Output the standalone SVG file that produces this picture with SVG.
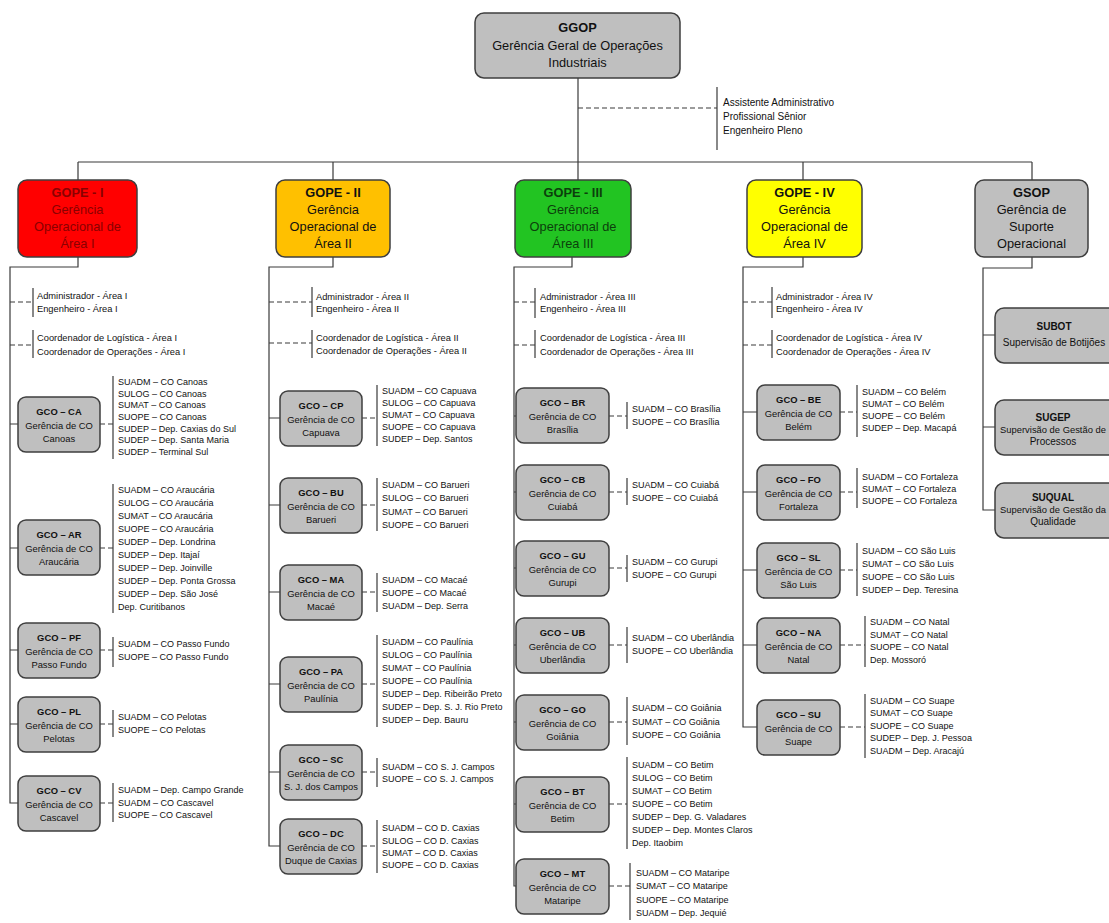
<svg xmlns="http://www.w3.org/2000/svg" width="1109" height="923" viewBox="0 0 1109 923">
<style>
.bg{fill:#ffffff}
.box{stroke:#3f3f3f;stroke-width:1.5}
.gray{fill:#BFBFBF}
.ln{stroke:#3a3a3a;stroke-width:1.2;fill:none}
.dash{stroke-dasharray:5,3}
text{font-family:"Liberation Sans",Arial,sans-serif;fill:#111}
.h{font-size:12.8px;text-anchor:middle}
.b{font-weight:bold}
.g{font-size:9.4px;text-anchor:middle}
.gs{font-size:10px;text-anchor:middle}
.gn{font-size:9.4px;text-anchor:middle}
.l{font-size:9px}
.s{font-size:9.3px}
.a{font-size:10px}
</style>
<rect class="bg" x="0" y="0" width="1109" height="923"/>

<g id="connectors">
  <path class="ln" d="M578 78 V180"/>
  <path class="ln" d="M78 162 H1032"/>
  <path class="ln" d="M78 162 V180 M333 162 V180 M803 162 V180 M1032 162 V180"/>
  <path class="ln dash" d="M578 108 H717"/>
  <path class="ln" d="M717 87 V150"/>
  <!-- column 1 -->
  <path class="ln" d="M78 257 V267 H10 V803 H18"/>
  <path class="ln dash" d="M10 302 H33 M10 345 H33"/>
  <path class="ln" d="M33 288 V317 M33 330 V358"/>
  <path class="ln" d="M10 424 H18 M10 548 H18 M10 650 H18 M10 724 H18"/>
  <path class="ln dash" d="M100 424 H113 M100 548 H113 M100 650 H113 M100 724 H113 M100 803 H113"/>
  <path class="ln" d="M113 376 V459 M113 484 V613 M113 637 V667 M113 710 V737 M113 783 V822"/>
  <!-- column 2 -->
  <path class="ln" d="M333 257 V267 H269 V846 H280"/>
  <path class="ln dash" d="M269 302 H312 M269 343 H312"/>
  <path class="ln" d="M312 287 V317 M312 330 V358"/>
  <path class="ln" d="M269 418 H280 M269 505 H280 M269 592 H280 M269 684 H280 M269 772 H280"/>
  <path class="ln dash" d="M362 418 H377 M362 505 H377 M362 592 H377 M362 684 H377 M362 772 H377 M362 846 H377"/>
  <path class="ln" d="M377 385 V446 M377 478 V531 M377 573 V612 M377 635 V727 M377 758 V787 M377 820 V873"/>
  <!-- column 3 -->
  <path class="ln" d="M572 257 V267 H514 V886 H516"/>
  <path class="ln dash" d="M514 302 H535 M514 345 H535"/>
  <path class="ln" d="M535 288 V318 M535 330 V358"/>
  <path class="ln" d="M514 416 H516 M514 492 H516 M514 568 H516 M514 645 H516 M514 722 H516 M514 804 H516"/>
  <path class="ln dash" d="M609 416 H627 M609 492 H627 M609 568 H627 M609 645 H627 M609 722 H627 M609 804 H627 M609 886 H630"/>
  <path class="ln" d="M627 402 V429 M627 478 V505 M627 555 V582 M627 627 V663 M627 697 V745 M627 757 V849 M630 863 V920"/>
  <!-- column 4 -->
  <path class="ln" d="M803 257 V267 H743 V727 H757"/>
  <path class="ln dash" d="M743 302 H772 M743 345 H772"/>
  <path class="ln" d="M772 287 V318 M772 330 V358"/>
  <path class="ln" d="M743 412 H757 M743 492 H757 M743 570 H757 M743 645 H757"/>
  <path class="ln dash" d="M840 412 H857 M840 492 H857 M840 570 H857 M840 645 H865 M840 727 H865"/>
  <path class="ln" d="M857 385 V437 M857 468 V508 M857 543 V596 M865 616 V667 M865 694 V758"/>
  <!-- column 5 -->
  <path class="ln" d="M1032 257 V268 H983 V510 H995"/>
  <path class="ln" d="M983 335 H995 M983 427 H995"/>
</g>

<g id="ggop">
  <rect class="box gray" x="475" y="13" width="205" height="65" rx="9"/>
  <text class="h b" x="577.5" y="32">GGOP</text>
  <text class="h" x="577.5" y="50">Gerência Geral de Operações</text>
  <text class="h" x="577.5" y="67">Industriais</text>
</g>
<g id="ggop-staff">
  <text class="a" x="723" y="106">Assistente Administrativo</text>
  <text class="a" x="723" y="120">Profissional Sênior</text>
  <text class="a" x="723" y="134">Engenheiro Pleno</text>
</g>

<!-- Column 1 -->
<g id="gope1">
  <rect class="box" x="18" y="180" width="119" height="77" rx="9" fill="#FF0000"/>
  <text class="h b" x="77.5" y="197" style="fill:#8a0000">GOPE - I</text>
  <text class="h" x="77.5" y="214" style="fill:#8a0000">Gerência</text>
  <text class="h" x="77.5" y="231" style="fill:#8a0000">Operacional de</text>
  <text class="h" x="77.5" y="248" style="fill:#8a0000">Área I</text>
</g>
<g id="gope1-staff">
  <text class="s" x="37" y="299">Administrador - Área I</text>
  <text class="s" x="37" y="312">Engenheiro - Área I</text>
  <text class="s" x="37" y="341">Coordenador de Logística - Área I</text>
  <text class="s" x="37" y="355">Coordenador de Operações - Área I</text>
</g>
<g id="gco-ca">
  <rect class="box gray" x="18" y="397" width="82" height="55" rx="8"/>
  <text class="g b" x="59" y="415">GCO – CA</text>
  <text class="g" x="59" y="428.5">Gerência de CO</text>
  <text class="g" x="59" y="442">Canoas</text>
  <text class="l" x="118" y="385">SUADM – CO Canoas</text>
  <text class="l" x="118" y="397">SULOG – CO Canoas</text>
  <text class="l" x="118" y="408">SUMAT – CO Canoas</text>
  <text class="l" x="118" y="420">SUOPE – CO Canoas</text>
  <text class="l" x="118" y="432">SUDEP – Dep. Caxias do Sul</text>
  <text class="l" x="118" y="443">SUDEP – Dep. Santa Maria</text>
  <text class="l" x="118" y="455">SUDEP – Terminal Sul</text>
</g>
<g id="gco-ar">
  <rect class="box gray" x="18" y="520" width="82" height="55" rx="8"/>
  <text class="g b" x="59" y="538">GCO – AR</text>
  <text class="g" x="59" y="551.5">Gerência de CO</text>
  <text class="g" x="59" y="565">Araucária</text>
  <text class="l" x="118" y="493">SUADM – CO Araucária</text>
  <text class="l" x="118" y="506">SULOG – CO Araucária</text>
  <text class="l" x="118" y="519">SUMAT – CO Araucária</text>
  <text class="l" x="118" y="532">SUOPE – CO Araucária</text>
  <text class="l" x="118" y="545">SUDEP – Dep. Londrina</text>
  <text class="l" x="118" y="558">SUDEP – Dep. Itajaí</text>
  <text class="l" x="118" y="571">SUDEP – Dep. Joinville</text>
  <text class="l" x="118" y="584">SUDEP – Dep. Ponta Grossa</text>
  <text class="l" x="118" y="597">SUDEP – Dep. São José</text>
  <text class="l" x="118" y="610">Dep. Curitibanos</text>
</g>
<g id="gco-pf">
  <rect class="box gray" x="18" y="623" width="82" height="55" rx="8"/>
  <text class="g b" x="59" y="641">GCO – PF</text>
  <text class="g" x="59" y="654.5">Gerência de CO</text>
  <text class="g" x="59" y="668">Passo Fundo</text>
  <text class="l" x="118" y="647">SUADM – CO Passo Fundo</text>
  <text class="l" x="118" y="660">SUOPE – CO Passo Fundo</text>
</g>
<g id="gco-pl">
  <rect class="box gray" x="18" y="697" width="82" height="55" rx="8"/>
  <text class="g b" x="59" y="715">GCO – PL</text>
  <text class="g" x="59" y="728.5">Gerência de CO</text>
  <text class="g" x="59" y="742">Pelotas</text>
  <text class="l" x="118" y="720">SUADM – CO Pelotas</text>
  <text class="l" x="118" y="733">SUOPE – CO Pelotas</text>
</g>
<g id="gco-cv">
  <rect class="box gray" x="18" y="776" width="82" height="55" rx="8"/>
  <text class="g b" x="59" y="794">GCO – CV</text>
  <text class="g" x="59" y="807.5">Gerência de CO</text>
  <text class="g" x="59" y="821">Cascavel</text>
  <text class="l" x="118" y="793">SUADM – Dep. Campo Grande</text>
  <text class="l" x="118" y="806">SUADM – CO Cascavel</text>
  <text class="l" x="118" y="818">SUOPE – CO Cascavel</text>
</g>

<!-- Column 2 -->
<g id="gope2">
  <rect class="box" x="276" y="180" width="114" height="77" rx="9" fill="#FFC000"/>
  <text class="h b" x="333" y="197">GOPE - II</text>
  <text class="h" x="333" y="214">Gerência</text>
  <text class="h" x="333" y="231">Operacional de</text>
  <text class="h" x="333" y="248">Área II</text>
</g>
<g id="gope2-staff">
  <text class="s" x="316" y="300">Administrador - Área II</text>
  <text class="s" x="316" y="312">Engenheiro - Área II</text>
  <text class="s" x="316" y="341">Coordenador de Logística - Área II</text>
  <text class="s" x="316" y="354">Coordenador de Operações - Área II</text>
</g>
<g id="gco-cp">
  <rect class="box gray" x="280" y="391" width="82" height="55" rx="8"/>
  <text class="g b" x="321" y="409">GCO – CP</text>
  <text class="g" x="321" y="422.5">Gerência de CO</text>
  <text class="g" x="321" y="436">Capuava</text>
  <text class="l" x="382" y="394">SUADM – CO Capuava</text>
  <text class="l" x="382" y="406">SULOG – CO Capuava</text>
  <text class="l" x="382" y="418">SUMAT – CO Capuava</text>
  <text class="l" x="382" y="430">SUOPE – CO Capuava</text>
  <text class="l" x="382" y="442">SUDEP – Dep. Santos</text>
</g>
<g id="gco-bu">
  <rect class="box gray" x="280" y="478" width="82" height="55" rx="8"/>
  <text class="g b" x="321" y="496">GCO – BU</text>
  <text class="g" x="321" y="509.5">Gerência de CO</text>
  <text class="g" x="321" y="523">Barueri</text>
  <text class="l" x="382" y="488">SUADM – CO Barueri</text>
  <text class="l" x="382" y="501">SULOG – CO Barueri</text>
  <text class="l" x="382" y="515">SUMAT – CO Barueri</text>
  <text class="l" x="382" y="528">SUOPE – CO Barueri</text>
</g>
<g id="gco-ma">
  <rect class="box gray" x="280" y="565" width="82" height="55" rx="8"/>
  <text class="g b" x="321" y="583">GCO – MA</text>
  <text class="g" x="321" y="596.5">Gerência de CO</text>
  <text class="g" x="321" y="610">Macaé</text>
  <text class="l" x="382" y="583">SUADM – CO Macaé</text>
  <text class="l" x="382" y="596">SUOPE – CO Macaé</text>
  <text class="l" x="382" y="609">SUADM – Dep. Serra</text>
</g>
<g id="gco-pa">
  <rect class="box gray" x="280" y="657" width="82" height="55" rx="8"/>
  <text class="g b" x="321" y="675">GCO – PA</text>
  <text class="g" x="321" y="688.5">Gerência de CO</text>
  <text class="g" x="321" y="702">Paulínia</text>
  <text class="l" x="382" y="645">SUADM – CO Paulínia</text>
  <text class="l" x="382" y="658">SULOG – CO Paulínia</text>
  <text class="l" x="382" y="671">SUMAT – CO Paulínia</text>
  <text class="l" x="382" y="684">SUOPE – CO Paulínia</text>
  <text class="l" x="382" y="697">SUDEP – Dep. Ribeirão Preto</text>
  <text class="l" x="382" y="710">SUDEP – Dep. S. J. Rio Preto</text>
  <text class="l" x="382" y="723">SUDEP – Dep. Bauru</text>
</g>
<g id="gco-sc">
  <rect class="box gray" x="280" y="745" width="82" height="55" rx="8"/>
  <text class="g b" x="321" y="763">GCO – SC</text>
  <text class="g" x="321" y="776.5">Gerência de CO</text>
  <text class="g" x="321" y="790">S. J. dos Campos</text>
  <text class="l" x="382" y="770">SUADM – CO S. J. Campos</text>
  <text class="l" x="382" y="782">SUOPE – CO S. J. Campos</text>
</g>
<g id="gco-dc">
  <rect class="box gray" x="280" y="819" width="82" height="55" rx="8"/>
  <text class="g b" x="321" y="837">GCO – DC</text>
  <text class="g" x="321" y="850.5">Gerência de CO</text>
  <text class="g" x="321" y="864">Duque de Caxias</text>
  <text class="l" x="382" y="831">SUADM – CO D. Caxias</text>
  <text class="l" x="382" y="844">SULOG – CO D. Caxias</text>
  <text class="l" x="382" y="856">SUMAT – CO D. Caxias</text>
  <text class="l" x="382" y="868">SUOPE – CO D. Caxias</text>
</g>

<!-- Column 3 -->
<g id="gope3">
  <rect class="box" x="515" y="180" width="116" height="77" rx="9" fill="#22C422"/>
  <text class="h b" x="573" y="197" style="fill:#0c3f0c">GOPE - III</text>
  <text class="h" x="573" y="214" style="fill:#0c3f0c">Gerência</text>
  <text class="h" x="573" y="231" style="fill:#0c3f0c">Operacional de</text>
  <text class="h" x="573" y="248" style="fill:#0c3f0c">Área III</text>
</g>
<g id="gope3-staff">
  <text class="s" x="540" y="300">Administrador - Área III</text>
  <text class="s" x="540" y="312">Engenheiro - Área III</text>
  <text class="s" x="540" y="341">Coordenador de Logística - Área III</text>
  <text class="s" x="540" y="355">Coordenador de Operações - Área III</text>
</g>
<g id="gco-br">
  <rect class="box gray" x="516" y="388" width="93" height="55" rx="8"/>
  <text class="g b" x="562.5" y="406">GCO – BR</text>
  <text class="g" x="562.5" y="419.5">Gerência de CO</text>
  <text class="g" x="562.5" y="433">Brasília</text>
  <text class="l" x="632" y="412">SUADM – CO Brasília</text>
  <text class="l" x="632" y="425">SUOPE – CO Brasília</text>
</g>
<g id="gco-cb">
  <rect class="box gray" x="516" y="465" width="93" height="55" rx="8"/>
  <text class="g b" x="562.5" y="483">GCO – CB</text>
  <text class="g" x="562.5" y="496.5">Gerência de CO</text>
  <text class="g" x="562.5" y="510">Cuiabá</text>
  <text class="l" x="632" y="488">SUADM – CO Cuiabá</text>
  <text class="l" x="632" y="501">SUOPE – CO Cuiabá</text>
</g>
<g id="gco-gu">
  <rect class="box gray" x="516" y="541" width="93" height="55" rx="8"/>
  <text class="g b" x="562.5" y="559">GCO – GU</text>
  <text class="g" x="562.5" y="572.5">Gerência de CO</text>
  <text class="g" x="562.5" y="586">Gurupi</text>
  <text class="l" x="632" y="565">SUADM – CO Gurupi</text>
  <text class="l" x="632" y="578">SUOPE – CO Gurupi</text>
</g>
<g id="gco-ub">
  <rect class="box gray" x="516" y="618" width="93" height="55" rx="8"/>
  <text class="g b" x="562.5" y="636">GCO – UB</text>
  <text class="g" x="562.5" y="649.5">Gerência de CO</text>
  <text class="g" x="562.5" y="663">Uberlândia</text>
  <text class="l" x="632" y="641">SUADM – CO Uberlândia</text>
  <text class="l" x="632" y="654">SUOPE – CO Uberlândia</text>
</g>
<g id="gco-go">
  <rect class="box gray" x="516" y="695" width="93" height="55" rx="8"/>
  <text class="g b" x="562.5" y="713">GCO – GO</text>
  <text class="g" x="562.5" y="726.5">Gerência de CO</text>
  <text class="g" x="562.5" y="740">Goiânia</text>
  <text class="l" x="632" y="711">SUADM – CO Goiânia</text>
  <text class="l" x="632" y="725">SUMAT – CO Goiânia</text>
  <text class="l" x="632" y="738">SUOPE – CO Goiânia</text>
</g>
<g id="gco-bt">
  <rect class="box gray" x="516" y="777" width="93" height="55" rx="8"/>
  <text class="g b" x="562.5" y="795">GCO – BT</text>
  <text class="g" x="562.5" y="808.5">Gerência de CO</text>
  <text class="g" x="562.5" y="822">Betim</text>
  <text class="l" x="632" y="768">SUADM – CO Betim</text>
  <text class="l" x="632" y="781">SULOG – CO Betim</text>
  <text class="l" x="632" y="794">SUMAT – CO Betim</text>
  <text class="l" x="632" y="807">SUOPE – CO Betim</text>
  <text class="l" x="632" y="820">SUDEP – Dep. G. Valadares</text>
  <text class="l" x="632" y="833">SUDEP – Dep. Montes Claros</text>
  <text class="l" x="632" y="846">Dep. Itaobim</text>
</g>
<g id="gco-mt">
  <rect class="box gray" x="516" y="859" width="93" height="55" rx="8"/>
  <text class="g b" x="562.5" y="877">GCO – MT</text>
  <text class="g" x="562.5" y="890.5">Gerência de CO</text>
  <text class="g" x="562.5" y="904">Mataripe</text>
  <text class="l" x="636" y="876">SUADM – CO Mataripe</text>
  <text class="l" x="636" y="889">SUMAT – CO Mataripe</text>
  <text class="l" x="636" y="903">SUOPE – CO Mataripe</text>
  <text class="l" x="636" y="916">SUADM – Dep. Jequié</text>
</g>

<!-- Column 4 -->
<g id="gope4">
  <rect class="box" x="747" y="180" width="115" height="77" rx="9" fill="#FFFF00"/>
  <text class="h b" x="804.5" y="197">GOPE - IV</text>
  <text class="h" x="804.5" y="214">Gerência</text>
  <text class="h" x="804.5" y="231">Operacional de</text>
  <text class="h" x="804.5" y="248">Área IV</text>
</g>
<g id="gope4-staff">
  <text class="s" x="776" y="300">Administrador - Área IV</text>
  <text class="s" x="776" y="312">Engenheiro - Área IV</text>
  <text class="s" x="776" y="341">Coordenador de Logística - Área IV</text>
  <text class="s" x="776" y="355">Coordenador de Operações - Área IV</text>
</g>
<g id="gco-be">
  <rect class="box gray" x="757" y="385" width="83" height="55" rx="8"/>
  <text class="g b" x="798.5" y="403">GCO – BE</text>
  <text class="g" x="798.5" y="416.5">Gerência de CO</text>
  <text class="g" x="798.5" y="430">Belém</text>
  <text class="l" x="862" y="395">SUADM – CO Belém</text>
  <text class="l" x="862" y="407">SUMAT – CO Belém</text>
  <text class="l" x="862" y="419">SUOPE – CO Belém</text>
  <text class="l" x="862" y="431">SUDEP – Dep. Macapá</text>
</g>
<g id="gco-fo">
  <rect class="box gray" x="757" y="465" width="83" height="55" rx="8"/>
  <text class="g b" x="798.5" y="483">GCO – FO</text>
  <text class="g" x="798.5" y="496.5">Gerência de CO</text>
  <text class="g" x="798.5" y="510">Fortaleza</text>
  <text class="l" x="862" y="480">SUADM – CO Fortaleza</text>
  <text class="l" x="862" y="492">SUMAT – CO Fortaleza</text>
  <text class="l" x="862" y="504">SUOPE – CO Fortaleza</text>
</g>
<g id="gco-sl">
  <rect class="box gray" x="757" y="543" width="83" height="55" rx="8"/>
  <text class="g b" x="798.5" y="561">GCO – SL</text>
  <text class="g" x="798.5" y="574.5">Gerência de CO</text>
  <text class="g" x="798.5" y="588">São Luis</text>
  <text class="l" x="862" y="554">SUADM – CO São Luis</text>
  <text class="l" x="862" y="567">SUMAT – CO São Luis</text>
  <text class="l" x="862" y="580">SUOPE – CO São Luis</text>
  <text class="l" x="862" y="593">SUDEP – Dep. Teresina</text>
</g>
<g id="gco-na">
  <rect class="box gray" x="757" y="618" width="83" height="55" rx="8"/>
  <text class="g b" x="798.5" y="636">GCO – NA</text>
  <text class="g" x="798.5" y="649.5">Gerência de CO</text>
  <text class="g" x="798.5" y="663">Natal</text>
  <text class="l" x="870" y="625">SUADM – CO Natal</text>
  <text class="l" x="870" y="638">SUMAT – CO Natal</text>
  <text class="l" x="870" y="650">SUOPE – CO Natal</text>
  <text class="l" x="870" y="663">Dep. Mossoró</text>
</g>
<g id="gco-su">
  <rect class="box gray" x="757" y="700" width="83" height="55" rx="8"/>
  <text class="g b" x="798.5" y="718">GCO – SU</text>
  <text class="g" x="798.5" y="731.5">Gerência de CO</text>
  <text class="g" x="798.5" y="745">Suape</text>
  <text class="l" x="870" y="704">SUADM – CO Suape</text>
  <text class="l" x="870" y="716">SUMAT – CO Suape</text>
  <text class="l" x="870" y="729">SUOPE – CO Suape</text>
  <text class="l" x="870" y="741">SUDEP – Dep. J. Pessoa</text>
  <text class="l" x="870" y="754">SUADM – Dep. Aracajú</text>
</g>

<!-- Column 5 -->
<g id="gsop">
  <rect class="box gray" x="975" y="180" width="113" height="77" rx="9"/>
  <text class="h b" x="1031.5" y="197">GSOP</text>
  <text class="h" x="1031.5" y="214">Gerência de</text>
  <text class="h" x="1031.5" y="231">Suporte</text>
  <text class="h" x="1031.5" y="248">Operacional</text>
</g>
<g id="subot">
  <rect class="box gray" x="995" y="308" width="122" height="55" rx="9"/>
  <text class="gs b" x="1054" y="330">SUBOT</text>
  <text class="gs" x="1054" y="346">Supervisão de Botijões</text>
</g>
<g id="sugep">
  <rect class="box gray" x="995" y="400" width="122" height="55" rx="9"/>
  <text class="gs b" x="1053" y="421">SUGEP</text>
  <text class="gn" x="1053" y="433">Supervisão de Gestão de</text>
  <text class="gs" x="1053" y="445">Processos</text>
</g>
<g id="suqual">
  <rect class="box gray" x="995" y="483" width="122" height="55" rx="9"/>
  <text class="gs b" x="1053" y="501">SUQUAL</text>
  <text class="gn" x="1053" y="513">Supervisão de Gestão da</text>
  <text class="gs" x="1053" y="525">Qualidade</text>
</g>
</svg>
